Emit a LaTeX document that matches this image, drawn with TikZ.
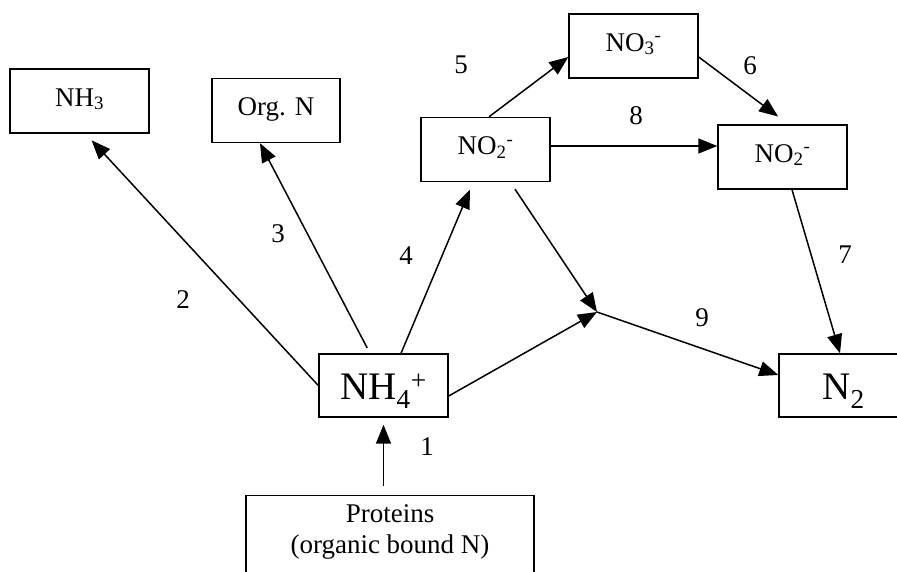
\documentclass[tikz,border=0pt]{standalone}
\usepackage{fontspec}
\setmainfont{Liberation Serif}
\usepackage{tikz}
\usetikzlibrary{arrows.meta}

\begin{document}
\begin{tikzpicture}[x=1pt,y=-1pt,
    every node/.style={font=\fontsize{27}{31}\selectfont},
    box/.style={draw,line width=1.4pt,minimum width=129pt,inner xsep=0pt,inner ysep=9pt,text height=28pt,text depth=18pt},
    bigbox/.style={draw,line width=1.4pt,minimum width=129pt,inner sep=0pt,text height=45pt,text depth=18pt,font=\fontsize{39}{45}\selectfont},
    arr/.style={line width=1.5pt,-{Triangle[length=19pt,width=15pt]}}]
      \clip (0,0) rectangle (897,571);
      % nitrogen species
      \node[box,minimum width=139pt] (nhthree) at (79.5,101) {NH\textsubscript{3}};
      \node[box,minimum width=128pt] (orgn) at (276,110.5) {Org. N};
      \node[box] (notwo) at (485.5,149.5) {NO\textsubscript{2}\textsuperscript{-}};
      \node[box] (nothree) at (633.5,46) {NO\textsubscript{3}\textsuperscript{-}};
      \node[box] (notwor) at (782.5,157) {NO\textsubscript{2}\textsuperscript{-}};
      \node[bigbox] (nhfour) at (383.5,385.5) {NH\textsubscript{4}\textsuperscript{+}};
      \node[bigbox] (ntwo) at (843.5,385.5) {N\textsubscript{2}};
      \node[draw,line width=1.4pt,anchor=north,minimum width=288pt,inner ysep=9pt,align=center] (proteins) at (390,495)
        {Proteins\\(organic bound N)\rule[-40pt]{0pt}{40pt}};
      \coordinate (jn) at (597,312);
      % reactions
      \draw[arr,shorten <=9pt,shorten >=7pt] (nhfour.south |- proteins.north) -- (nhfour.south);
      \draw[arr,shorten >=9pt] (nhfour.west) -- ([xshift=6pt]nhthree.south);
      \draw[arr,shorten <=6pt] ([xshift=-13.5pt]nhfour.north) -- ([xshift=-16pt]orgn.south);
      \draw[arr,shorten >=8pt] ([xshift=17.5pt]nhfour.north) -- ([xshift=-12.5pt]notwo.south);
      \draw[arr] ([xshift=3.5pt]notwo.north) -- ([yshift=-11pt]nothree.west);
      \draw[arr,shorten >=13pt] ([yshift=-11pt]nothree.east) -- ([xshift=6pt]notwor.north);
      \draw[arr] ([xshift=9.5pt]notwor.south) -- ([xshift=-3.5pt]ntwo.north);
      \draw[arr] ([yshift=3.5pt]notwo.east) -- ([yshift=3.5pt]notwo.east -| notwor.west);
      \draw[arr] ([xshift=29.5pt,yshift=-7pt]notwo.south) -- (jn);
      \draw[arr] ([yshift=-10.5pt]nhfour.east) -- (jn);
      \draw[arr] (jn) -- ([yshift=10.5pt]ntwo.west);
      % reaction numbers
      \node (lone) at (427,447) {1};
      \node (ltwo) at (183,300) {2};
      \node (lthree) at (278,234) {3};
      \node (lfour) at (406,256) {4};
      \node (lfive) at (461,65) {5};
      \node (lsix) at (750,66) {6};
      \node (lseven) at (845,255) {7};
      \node (leight) at (636,116) {8};
      \node (lnine) at (702,318) {9};
    \end{tikzpicture}
\end{document}
